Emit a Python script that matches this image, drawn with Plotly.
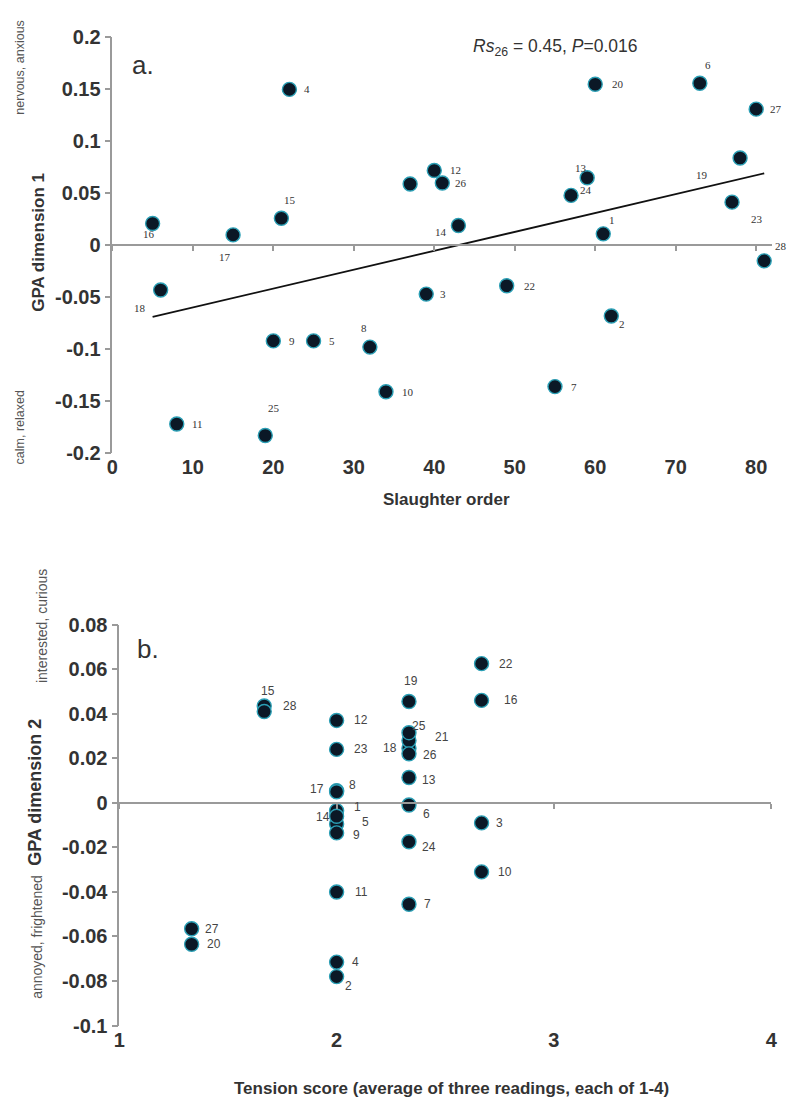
import plotly.graph_objects as go

W, H = 795, 1115

# ---------------- data: panel a ----------------
ids = list(range(1, 29))
slaughter_order = [61, 62, 39, 22, 25, 73, 55, 32, 20, 34, 8, 40, 59, 43,
                   21, 5, 15, 6, 78, 60, 37, 49, 77, 57, 19, 41, 80, 81]
gpa_dim1 = [0.011, -0.068, -0.047, 0.150, -0.092, 0.156, -0.136, -0.098,
            -0.092, -0.141, -0.172, 0.072, 0.065, 0.019, 0.026, 0.021,
            0.010, -0.043, 0.084, 0.155, 0.059, -0.039, 0.0415, 0.048,
            -0.183, 0.060, 0.131, -0.015]
fit_intercept = -0.0781
fit_slope = 0.00182
stat_text = "<i>Rs</i><sub>26</sub> = 0.45, <i>P</i>=0.016"

# ---------------- data: panel b ----------------
tension_score = [2.0, 2.0, 2.667, 2.0, 2.0, 2.333, 2.333, 2.0, 2.0, 2.667,
                 2.0, 2.0, 2.333, 2.0, 1.667, 2.667, 2.0, 2.333, 2.333,
                 1.333, 2.333, 2.667, 2.0, 2.333, 2.333, 2.333, 1.333, 1.667]
gpa_dim2 = [-0.0035, -0.078, -0.009, -0.0715, -0.0095, -0.001, -0.0455,
            0.0055, -0.0135, -0.031, -0.040, 0.037, 0.0114, -0.006, 0.0435,
            0.046, 0.005, 0.0245, 0.0455, -0.0635, 0.028, 0.0625, 0.024,
            -0.0175, 0.0315, 0.022, -0.0565, 0.041]

# label offsets (pixels) for point labels; None = label hidden
off_a = {1: (9, 14), 2: (11, -8), 3: (17, 0), 4: (18, 0), 5: (18, 0),
         6: (8, 18), 7: (19, 0), 8: (-6, 19), 9: (19, 0), 10: (22, 0),
         11: (21, 0), 12: (21, 0), 13: (-6, 10), 14: (-17, -6), 15: (9, 18),
         16: (-4, -11), 17: (-8, -22), 18: (-21, -18), 19: (-38, -17),
         20: (23, 0), 21: None, 22: (23, 0), 23: (25, -17), 24: (15, 5),
         25: (9, 27), 26: (19, 0), 27: (20, 0), 28: (17, 15)}
off_b = {1: (21, 4), 2: (12, -9), 3: (18, 0), 4: (19, 0), 5: (29, 2),
         6: (18, -9), 7: (19, 0), 8: (16, 6), 9: (20, -2), 10: (23, 0),
         11: (25, 0), 12: (24, 0), 13: (20, -3), 14: (-14, -1), 15: (4, 15),
         16: (29, 0), 17: (-20, 3), 18: (-19, 0), 19: (2, 20), 20: (22, 0),
         21: (33, 3), 22: (24, 0), 23: (24, 0), 24: (20, -5), 25: (10, 7),
         26: (21, -1), 27: (20, 0), 28: (26, 6)}

# ---------------- layout geometry ----------------
def px_x(p):
    return p / W

def px_y(p):
    return 1 - p / H

xa_dom = [px_x(108), px_x(778)]
ya_dom = [px_y(451), px_y(27)]
xb_dom = [px_x(115), px_x(777)]
yb_dom = [px_y(1035), px_y(626)]
xa_rng = [0, 82]
ya_rng = [-0.2, 0.2]
xb_rng = [1, 4]
yb_rng = [-0.1, 0.08]

def zero_pos(dom, rng):
    return dom[0] + (0 - rng[0]) / (rng[1] - rng[0]) * (dom[1] - dom[0])

AX = "#9a9a9a"
TXT = "#333333"
SANS = "Liberation Sans, Arial, sans-serif"
SERIF = "Liberation Serif, Times New Roman, serif"
marker = dict(size=14, color="#0b1826", line=dict(color="#2b9fb5", width=1.4))

fig = go.Figure()

fig.add_trace(go.Scatter(x=slaughter_order, y=gpa_dim1, mode="markers",
                         marker=marker, xaxis="x", yaxis="y",
                         hoverinfo="skip", showlegend=False))
x_fit = [min(slaughter_order), max(slaughter_order)]
y_fit = [fit_intercept + fit_slope * v for v in x_fit]
fig.add_trace(go.Scatter(x=x_fit, y=y_fit, mode="lines",
                         line=dict(color="#111111", width=1.8),
                         xaxis="x", yaxis="y", showlegend=False,
                         hoverinfo="skip"))
fig.add_trace(go.Scatter(x=[None], y=[None], xaxis="x3", yaxis="y",
                         showlegend=False))
fig.add_trace(go.Scatter(x=[None], y=[None], xaxis="x4", yaxis="y2",
                         showlegend=False))
fig.add_trace(go.Scatter(x=tension_score, y=gpa_dim2, mode="markers",
                         marker=marker, xaxis="x2", yaxis="y2",
                         hoverinfo="skip", showlegend=False))

tickfont = dict(family=SANS, size=20, color=TXT, weight="bold")

yaxis_common = dict(showline=True, linecolor=AX, linewidth=1.5,
                    ticks="outside", ticklen=6, tickcolor=AX, tickwidth=1.5,
                    showgrid=False, zeroline=False, tickfont=tickfont)

fig.update_layout(
    width=W, height=H, margin=dict(l=0, r=0, t=0, b=0),
    paper_bgcolor="white", plot_bgcolor="white",
    xaxis=dict(domain=xa_dom, range=xa_rng, anchor="y", dtick=10,
               showline=False, ticks="", showgrid=False, zeroline=False,
               tickfont=tickfont),
    xaxis3=dict(overlaying="x", matches="x", anchor="free",
                position=zero_pos(ya_dom, ya_rng), showline=True,
                linecolor=AX, linewidth=1.5, ticks="outside", ticklen=5,
                tickcolor=AX, tickwidth=1.5, dtick=10, showticklabels=False,
                showgrid=False, zeroline=False),
    yaxis=dict(domain=ya_dom, range=ya_rng, anchor="x",
               tickvals=[-0.2, -0.15, -0.1, -0.05, 0, 0.05, 0.1, 0.15, 0.2],
               ticktext=["-0.2", "-0.15", "-0.1", "-0.05", "0", "0.05",
                         "0.1", "0.15", "0.2"],
               **yaxis_common),
    xaxis2=dict(domain=xb_dom, range=xb_rng, anchor="y2", dtick=1,
                showline=False, ticks="", showgrid=False, zeroline=False,
                tickfont=tickfont),
    xaxis4=dict(overlaying="x2", matches="x2", anchor="free",
                position=zero_pos(yb_dom, yb_rng), showline=True,
                linecolor=AX, linewidth=1.5, ticks="outside", ticklen=5,
                tickcolor=AX, tickwidth=1.5, dtick=1, showticklabels=False,
                showgrid=False, zeroline=False),
    yaxis2=dict(domain=yb_dom, range=yb_rng, anchor="x2",
                tickvals=[-0.1, -0.08, -0.06, -0.04, -0.02, 0, 0.02, 0.04,
                          0.06, 0.08],
                ticktext=["-0.1", "-0.08", "-0.06", "-0.04", "-0.02", "0",
                          "0.02", "0.04", "0.06", "0.08"],
                **yaxis_common),
)

ann = []
for i, xv, yv in zip(ids, slaughter_order, gpa_dim1):
    o = off_a[i]
    if o is None:
        continue
    ann.append(dict(x=xv, y=yv, xref="x", yref="y", text=str(i),
                    showarrow=False, xshift=o[0], yshift=o[1],
                    font=dict(family=SERIF, size=11, color=TXT)))
for i, xv, yv in zip(ids, tension_score, gpa_dim2):
    o = off_b[i]
    ann.append(dict(x=xv, y=yv, xref="x2", yref="y2", text=str(i),
                    showarrow=False, xshift=o[0], yshift=o[1],
                    font=dict(family=SANS, size=12, color="#444444")))

def txt(text, px, py, size, angle=0, bold=False, color=TXT, fam=SANS):
    ann.append(dict(text=text, x=px_x(px), y=px_y(py), xref="paper",
                    yref="paper", showarrow=False, textangle=angle,
                    xanchor="center", yanchor="middle",
                    font=dict(family=fam, size=size, color=color,
                              weight="bold" if bold else "normal")))

txt("a.", 139, 55, 26)
txt("b.", 144, 651, 26)
txt(stat_text, 557, 37, 17.5)
txt("GPA dimension 1", 33, 236, 17, angle=-90, bold=True)
txt("nervous, anxious", 14, 57, 12.5, angle=-90, color="#555555")
txt("calm, relaxed", 14, 425, 12.5, angle=-90, color="#555555")
txt("Slaughter order", 447, 498, 17, bold=True)
txt("GPA dimension 2", 30, 797, 18, angle=-90, bold=True)
txt("interested, curious", 36, 627, 14, angle=-90, color="#555555")
txt("annoyed, frightened", 32, 945, 14, angle=-90, color="#555555")
txt("Tension score (average of three readings, each of 1-4)", 452, 1099,
    17, bold=True)

fig.update_layout(annotations=ann)
fig.write_html("out.html")
